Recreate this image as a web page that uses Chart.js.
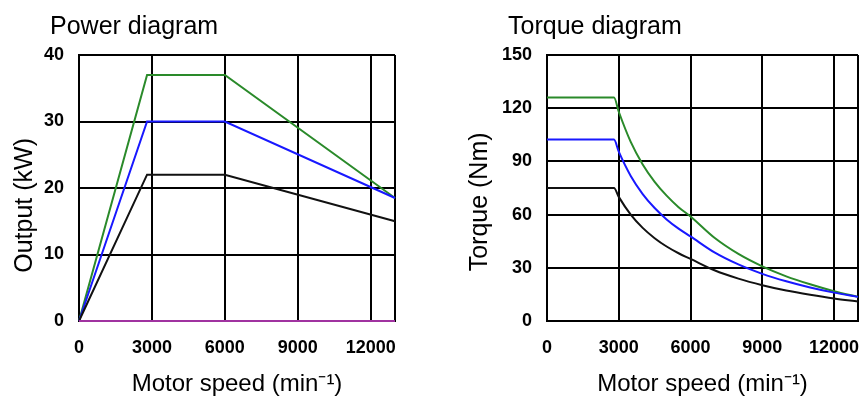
<!DOCTYPE html>
<html>
<head>
<meta charset="utf-8">
<script src="https://cdn.jsdelivr.net/npm/chart.js@4/dist/chart.umd.min.js"></script>
<style>
body { margin: 0; background: #fff; }
#wrap { position: relative; width: 864px; height: 401px; }
#wrap canvas { position: absolute; top: 0; }
</style>
</head>
<body>
<div id="wrap">
  <canvas id="power-chart" width="432" height="401" style="left:0"></canvas>
  <canvas id="torque-chart" width="432" height="401" style="left:432px"></canvas>
</div>
<script>
// SPEED AXIS (min-1)
const speedTicks = [0, 3000, 6000, 9000, 12000];
const speedMax = 13000;

// POWER DIAGRAM (kW)
const powerTicks = [0, 10, 20, 30, 40];
const powerSpeed = [0, 2800, 6000, 13000];
const powerGreen = [0, 37, 37, 18.5];
const powerBlue = [0, 30, 30, 18.5];
const powerBlack = [0, 22, 22, 15];
const powerBase = [0, 0, 0, 0];

// TORQUE DIAGRAM (Nm)
const torqueTicks = [0, 30, 60, 90, 120, 150];
const torqueSpeed = [0, 2800, 3000, 3500, 4000, 4500, 5000, 5500, 6000, 7000, 8000, 9000, 10000, 11000, 12000, 13000];
const torqueGreen = [126, 126, 118, 101, 88.3, 78.5, 70.7, 64.2, 58.9, 46.9, 37.8, 30.8, 25.2, 20.7, 16.8, 13.6];
const torqueBlue = [102.3, 102.3, 95.5, 81.8, 71.6, 63.7, 57.3, 52.1, 47.7, 38.7, 31.9, 26.6, 22.4, 18.9, 16.0, 13.6];
const torqueBlack = [75, 75, 70, 60, 52.5, 46.7, 42, 38.2, 35, 28.6, 23.9, 20.2, 17.2, 14.8, 12.7, 11];

Chart.defaults.font.family = '"Liberation Sans", Arial, sans-serif';
Chart.defaults.color = "#000";

const GREEN = "#2a8a2a";
const BLUE = "#1818ff";
const BLACK = "#111";
const MAGENTA = "#a032a0";

function points(xs, ys) {
    return xs.map(function (x, i) { return { x: x, y: ys[i] }; });
}

function line(xs, ys, color, smooth) {
    return {
        data: points(xs, ys),
        borderColor: color,
        borderWidth: 2,
        pointRadius: 0,
        fill: false,
        clip: 2, // lines on the frame stay fully visible
        tension: 0,
        cubicInterpolationMode: smooth ? "monotone" : "default"
    };
}

// heading sits a bit left of the plot, like the original
const heading = {
    id: "heading",
    afterDraw: function (chart, args, opts) {
        const ctx = chart.ctx;
        ctx.save();
        ctx.font = '25px "Liberation Sans", Arial, sans-serif';
        ctx.fillStyle = "#000";
        ctx.textBaseline = "alphabetic";
        ctx.fillText(opts.text, chart.chartArea.left + opts.dx, 34);
        ctx.restore();
    }
};

function makeChart(id, o) {
    return new Chart(id, {
        type: "line",
        data: { datasets: o.datasets },
        options: {
            responsive: false,
            animation: false,
            layout: { padding: { top: 55, right: o.padRight, left: 0, bottom: 0 } },
            plugins: {
                legend: { display: false },
                tooltip: { enabled: false },
                heading: { text: o.heading, dx: o.headingDx }
            },
            scales: {
                x: {
                    type: "linear",
                    min: 0,
                    max: speedMax,
                    afterBuildTicks: function (s) {
                        s.ticks = speedTicks.concat([speedMax]).map(function (v) { return { value: v }; });
                    },
                    afterFit: function (s) {
                        s.height = 80;
                        // labels may hang over the edges, keep the plot where it is
                        s.paddingLeft = 0;
                        s.paddingRight = 0;
                    },
                    ticks: {
                        padding: 16,
                        font: { size: 18, weight: "bold" },
                        callback: function (v) { return speedTicks.includes(v) ? String(v) : ""; }
                    },
                    grid: { color: "#000", lineWidth: 2, drawTicks: false },
                    border: { color: "#000", width: 2 },
                    title: {
                        display: true,
                        text: "Motor speed (min\u207B\u00B9)",
                        font: { size: 24 },
                        padding: { top: 0, bottom: 2 }
                    }
                },
                y: {
                    min: 0,
                    max: o.yTicks[o.yTicks.length - 1],
                    afterBuildTicks: function (s) {
                        s.ticks = o.yTicks.map(function (v) { return { value: v }; });
                    },
                    afterFit: function (s) { s.width = o.yWidth; },
                    ticks: { padding: 15, font: { size: 18, weight: "bold" } },
                    grid: { color: "#000", lineWidth: 2, drawTicks: false },
                    border: { color: "#000", width: 2 },
                    title: {
                        display: true,
                        // trailing spaces push the label a little lower, as in the original
                        text: o.yTitle,
                        font: { size: 25 },
                        padding: { top: o.yTitlePad, bottom: 0 }
                    }
                }
            }
        },
        plugins: [heading]
    });
}

// POWER DIAGRAM
makeChart("power-chart", {
    heading: "Power diagram",
    headingDx: -29,
    padRight: 37,
    yWidth: 79,
    yTicks: powerTicks,
    yTitle: "Output (kW)     ",
    yTitlePad: 10,
    datasets: [
        line(powerSpeed, powerBase, MAGENTA, false),
        line(powerSpeed, powerBlack, BLACK, false),
        line(powerSpeed, powerBlue, BLUE, false),
        line(powerSpeed, powerGreen, GREEN, false)
    ]
});

// TORQUE DIAGRAM
makeChart("torque-chart", {
    heading: "Torque diagram",
    headingDx: -39,
    padRight: 6,
    yWidth: 115,
    yTicks: torqueTicks,
    yTitle: "Torque (Nm)    ",
    yTitlePad: 33,
    datasets: [
        line(torqueSpeed, torqueBlack, BLACK, true),
        line(torqueSpeed, torqueBlue, BLUE, true),
        line(torqueSpeed, torqueGreen, GREEN, true)
    ]
});
</script>
</body>
</html>
